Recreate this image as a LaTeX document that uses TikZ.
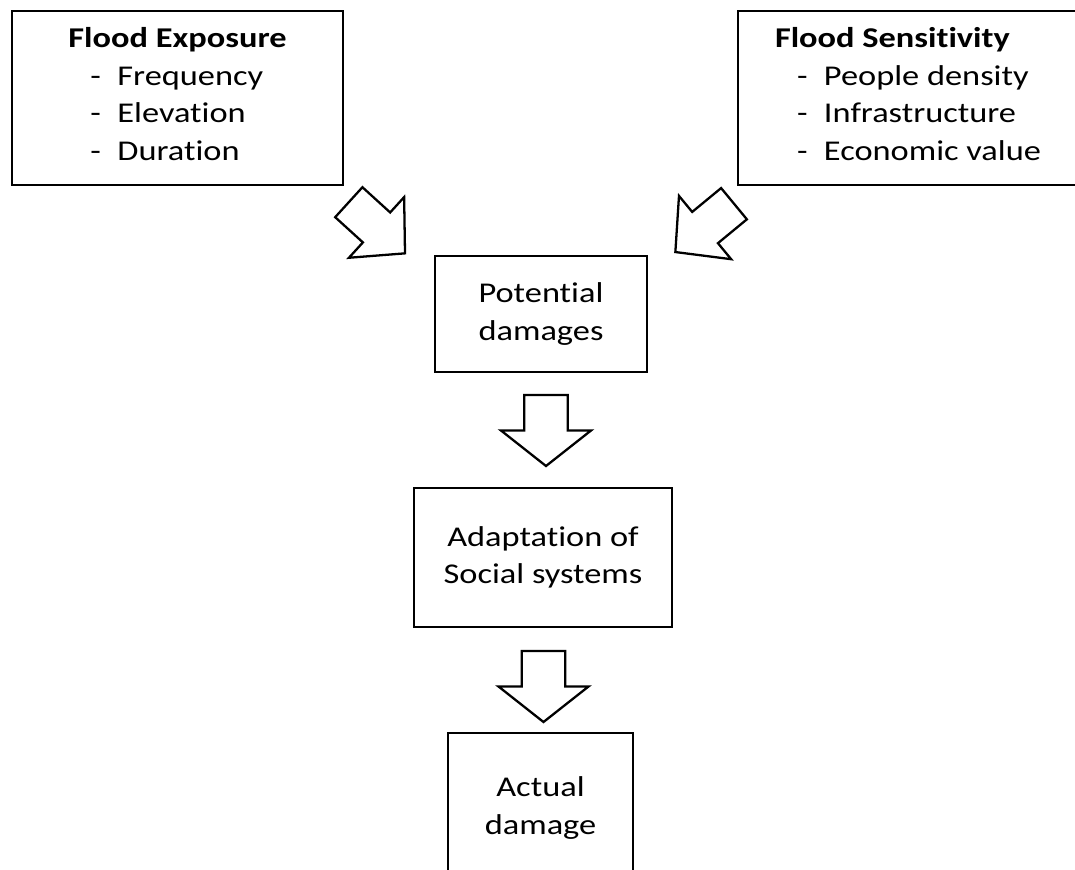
\documentclass[tikz,border=0pt]{standalone}
\usepackage{fontspec}
\setmainfont{Carlito}[FakeStretch=1.2]
\usetikzlibrary{calc}
\newcommand{\dashitem}[1]{\hspace*{0.44cm}\makebox[0.54cm][l]{-}#1}
\newcommand{\lowstrut}{\rule[-0.16cm]{0pt}{0.16cm}}
\newcommand{\nolig}{\kern0pt}% keeps t and i apart

\begin{document}
\begin{tikzpicture}[% styles used in image code
        x = 0.02cm, y = -0.02cm,
box/.style = {draw, line width=1.5pt,
              inner sep=0pt, outer sep=0pt, align=center,
              font=\fontsize{16.3}{21.3}\selectfont},
arrow line/.style = {draw, line width=1.3pt, line join=miter},
pics/block arrow/.style args = {#1/#2/#3/#4}{code={% length/shaft/head width/head length
    \draw[arrow line] (0,-#2/2) -- (#1-#4,-#2/2) -- (#1-#4,-#3/2) -- (#1,0)
                   -- (#1-#4,#3/2) -- (#1-#4,#2/2) -- (0,#2/2) -- cycle;
    }}
                        ]
	% page frame
	\useasboundingbox (0,0) rectangle (1075,869);
	\clip (0,0) rectangle (1075,869);

	% boxes
	\node[box, align=left, minimum width=6.62cm, minimum height=3.48cm] (expo) at (177.5,98)
	     {\textbf{Flood Exposure}\\ \dashitem{Frequency}\\ \dashitem{Elevat\nolig ion}\\ \dashitem{Durat\nolig ion}\lowstrut};
	\node[box, align=left, minimum width=6.8cm, minimum height=3.48cm] (sens) at (908,98)
	     {\textbf{Flood Sensit\nolig ivity}\\ \dashitem{People density}\\ \dashitem{Infrastructure}\\ \dashitem{Economic value}\lowstrut};
	\node[box, minimum width=4.24cm, minimum height=2.32cm] (pot) at (541,314) {Potent\nolig ial\\ damages};
	\node[box, minimum width=5.16cm, minimum height=2.78cm] (adapt) at (543,557.5) {Adaptat\nolig ion of\\ Social systems};
	\node[box, minimum width=3.7cm, minimum height=3cm] (act) at (540.5,808) {Actual\\ damage};

	% block arrows
	\coordinate (tailL) at (348.8,202.2);
	\coordinate (tailR) at (734,203.7);
	\coordinate (tailA) at (546,395);
	\coordinate (tailB) at (543.5,651);

	\pic[rotate=-42.3]  (arrL) at (tailL) {block arrow=76/40.5/82/38.5};
	\pic[rotate=-140.5] (arrR) at (tailR) {block arrow=76/40.5/82/38.5};
	\pic[rotate=-90]    (arrA) at (tailA) {block arrow=71/43.5/90/35.5};
	\pic[rotate=-90]    (arrB) at (tailB) {block arrow=71/43.5/90/35.5};
\end{tikzpicture}
\end{document}
